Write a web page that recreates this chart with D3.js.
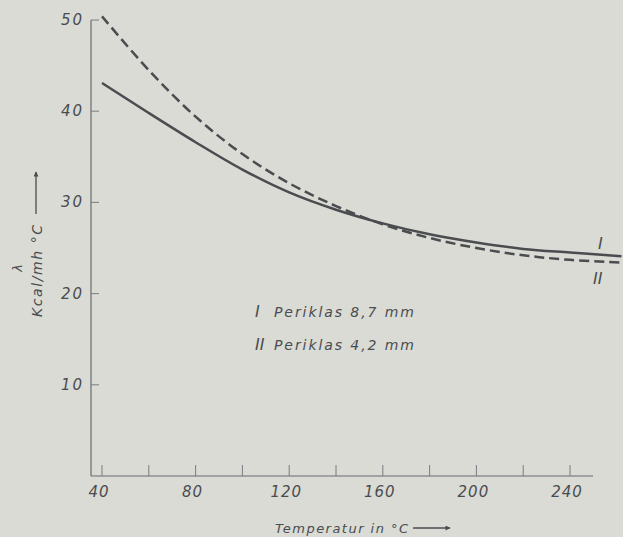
<!DOCTYPE html>
<html>
<head>
<meta charset="utf-8">
<script src="https://cdn.jsdelivr.net/npm/d3@7"></script>
<style>
  body { margin: 0; background: #d9dbd4; }
  svg { display: block; }
  text { font-family: "DejaVu Sans", sans-serif; font-style: italic; fill: #4a4c50; }
</style>
</head>
<body>
<div id="chart"></div>
<script>
// data
var temps  = [40, 60, 80, 100, 120, 140, 160, 180, 200, 220, 240, 262];
var curveI  = [43.1, 39.8, 36.6, 33.6, 31.1, 29.2, 27.7, 26.5, 25.6, 24.9, 24.5, 24.1];
var curveII = [50.4, 44.5, 39.4, 35.3, 32.1, 29.6, 27.6, 26.1, 25.0, 24.2, 23.7, 23.4];
var xTicks = [40, 60, 80, 100, 120, 140, 160, 180, 200, 220, 240];
var xTickLabels = [40, 80, 120, 160, 200, 240];
var yTicks = [10, 20, 30, 40, 50];
var legendLabels = [["I", "Periklas 8,7 mm"], ["II", "Periklas 4,2 mm"]];

var W = 623, H = 537;
var ink = "#4a4c50";

var svg = d3.select("#chart")
  .append("svg")
    .attr("width", W)
    .attr("height", H);

var x = d3.scaleLinear().domain([40, 240]).range([102, 570]);
var y = d3.scaleLinear().domain([0, 50]).range([476, 20]);

// arrow marker
svg.append("defs").append("marker")
    .attr("id", "arr")
    .attr("viewBox", "0 0 10 10")
    .attr("refX", 9).attr("refY", 5)
    .attr("markerWidth", 7).attr("markerHeight", 5)
    .attr("markerUnits", "userSpaceOnUse")
    .attr("orient", "auto")
  .append("path")
    .attr("d", "M0,0 L10,5 L0,10 z")
    .attr("fill", ink);

// axes lines
var axisX0 = 91;
svg.append("line")
  .attr("x1", axisX0).attr("y1", y(50))
  .attr("x2", axisX0).attr("y2", y(0))
  .attr("stroke", "#6a6c70").attr("stroke-width", 1.2);
svg.append("line")
  .attr("x1", axisX0).attr("y1", y(0))
  .attr("x2", 593).attr("y2", y(0))
  .attr("stroke", "#6a6c70").attr("stroke-width", 1.2);

// y ticks (inside)
svg.selectAll(".ytick")
  .data(yTicks)
  .enter().append("line")
    .attr("x1", axisX0).attr("x2", axisX0 + 8)
    .attr("y1", function(d) { return y(d); })
    .attr("y2", function(d) { return y(d); })
    .attr("stroke", "#7a7c80").attr("stroke-width", 1);

svg.selectAll(".ylab")
  .data(yTicks)
  .enter().append("text")
    .attr("x", 84)
    .attr("y", function(d) { return y(d) + 5; })
    .attr("text-anchor", "end")
    .attr("font-size", 15)
    .attr("letter-spacing", 2)
    .text(function(d) { return d; });

// x ticks (inside, upward)
svg.selectAll(".xtick")
  .data(xTicks)
  .enter().append("line")
    .attr("x1", function(d) { return x(d); })
    .attr("x2", function(d) { return x(d); })
    .attr("y1", y(0)).attr("y2", y(0) - 11)
    .attr("stroke", "#7a7c80").attr("stroke-width", 1);

svg.selectAll(".xlab")
  .data(xTickLabels)
  .enter().append("text")
    .attr("x", function(d) { return x(d) - 3; })
    .attr("y", 497)
    .attr("text-anchor", "middle")
    .attr("font-size", 15)
    .attr("letter-spacing", 1)
    .text(function(d) { return d; });

// axis titles
svg.append("text")
  .attr("x", 275).attr("y", 533)
  .attr("font-size", 13)
  .attr("textLength", 133)
  .text("Temperatur in °C");
svg.append("line")
  .attr("x1", 413).attr("y1", 528)
  .attr("x2", 450).attr("y2", 528)
  .attr("stroke", ink).attr("stroke-width", 1.3)
  .attr("marker-end", "url(#arr)");

svg.append("text")
  .attr("transform", "translate(42,317) rotate(-90)")
  .attr("font-size", 14)
  .attr("textLength", 92)
  .text("Kcal/mh °C");
svg.append("text")
  .attr("transform", "translate(22,268) rotate(-90)")
  .attr("font-size", 13)
  .attr("text-anchor", "middle")
  .text("λ");
svg.append("line")
  .attr("x1", 36).attr("y1", 214)
  .attr("x2", 36).attr("y2", 172)
  .attr("stroke", ink).attr("stroke-width", 1.3)
  .attr("marker-end", "url(#arr)");

// curves
var line = d3.line()
  .x(function(d) { return x(d[0]); })
  .y(function(d) { return y(d[1]); })
  .curve(d3.curveCatmullRom.alpha(0.5));

svg.append("path")
  .datum(d3.zip(temps, curveI))
  .attr("d", line)
  .attr("fill", "none")
  .attr("stroke", ink)
  .attr("stroke-width", 2.5);

svg.append("path")
  .datum(d3.zip(temps, curveII))
  .attr("d", line)
  .attr("fill", "none")
  .attr("stroke", ink)
  .attr("stroke-width", 2.5)
  .attr("stroke-dasharray", "10,5");

// curve labels
var roman = "'Liberation Serif', serif";
svg.append("text")
  .attr("x", 598).attr("y", 249)
  .attr("font-family", roman)
  .attr("font-size", 16)
  .text("I");
svg.append("text")
  .attr("x", 593).attr("y", 284)
  .attr("font-family", roman)
  .attr("font-size", 16)
  .text("II");

// legend
var leg = svg.selectAll(".leg")
  .data(legendLabels)
  .enter().append("g")
    .attr("transform", function(d, i) { return "translate(255," + (317 + i * 33) + ")"; });
leg.append("text")
  .attr("font-family", roman)
  .attr("font-size", 16)
  .text(function(d) { return d[0]; });
leg.append("text")
  .attr("x", 19)
  .attr("font-size", 14)
  .attr("textLength", 140)
  .text(function(d) { return d[1]; });
</script>
</body>
</html>
